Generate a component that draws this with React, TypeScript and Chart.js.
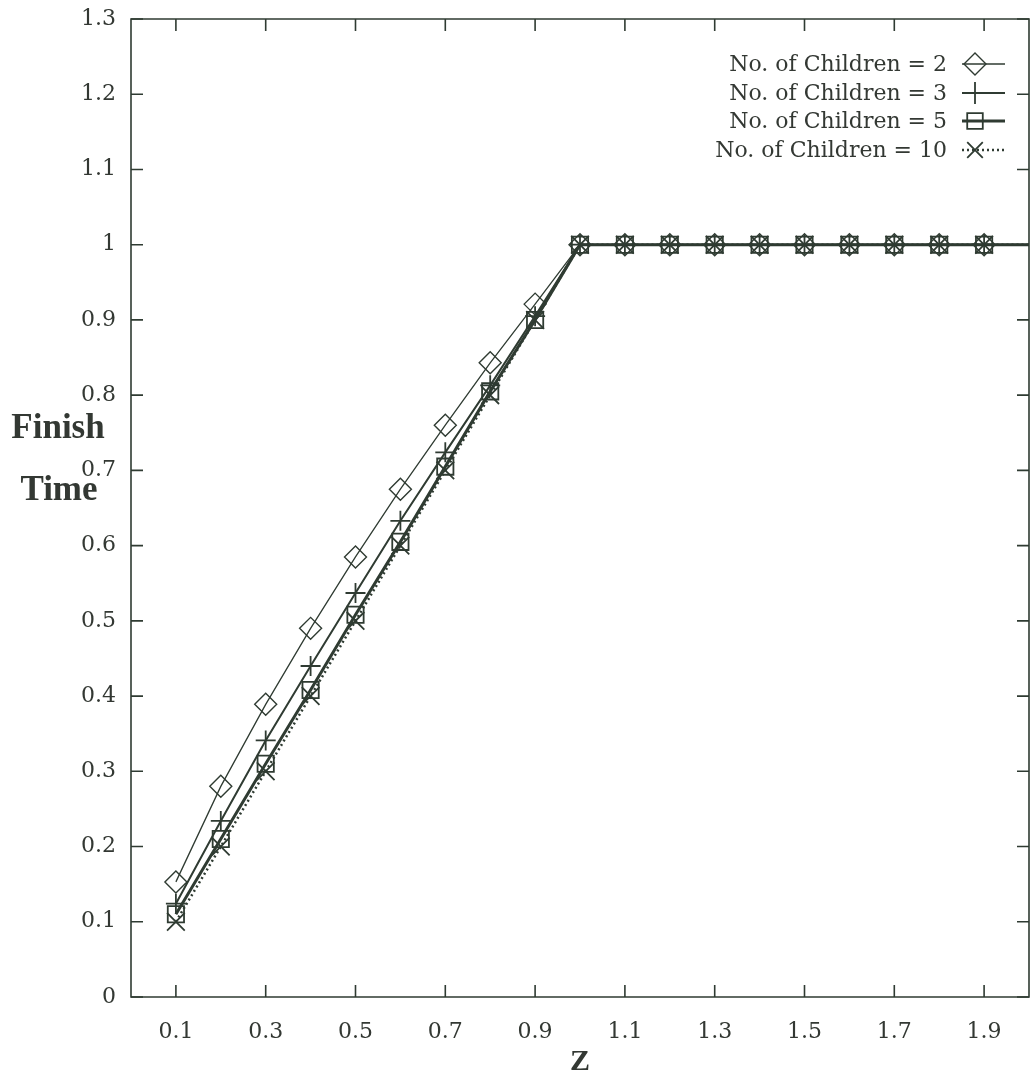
import React, { useEffect, useRef } from "react";
import { Chart, registerables } from "chart.js";

Chart.register(...registerables);

const zValues = [0.1, 0.2, 0.3, 0.4, 0.5, 0.6, 0.7, 0.8, 0.9, 1.0, 1.1, 1.2, 1.3, 1.4, 1.5, 1.6, 1.7, 1.8, 1.9, 2.0];
const children2 = [0.153, 0.28, 0.389, 0.49, 0.585, 0.675, 0.76, 0.843, 0.921, 1, 1, 1, 1, 1, 1, 1, 1, 1, 1, 1];
const children3 = [0.124, 0.234, 0.341, 0.44, 0.537, 0.633, 0.724, 0.813, 0.905, 1, 1, 1, 1, 1, 1, 1, 1, 1, 1, 1];
const children5 = [0.11, 0.21, 0.31, 0.408, 0.508, 0.605, 0.705, 0.805, 0.9, 1, 1, 1, 1, 1, 1, 1, 1, 1, 1, 1];
const children10 = [0.1, 0.2, 0.3, 0.4, 0.5, 0.6, 0.7, 0.8, 0.9, 1, 1, 1, 1, 1, 1, 1, 1, 1, 1, 1];

const seriesLabels = [
  "No. of Children = 2",
  "No. of Children = 3",
  "No. of Children = 5",
  "No. of Children = 10",
];

const xTickValues = [0.1, 0.3, 0.5, 0.7, 0.9, 1.1, 1.3, 1.5, 1.7, 1.9];
const yTickValues = [0, 0.1, 0.2, 0.3, 0.4, 0.5, 0.6, 0.7, 0.8, 0.9, 1, 1.1, 1.2, 1.3];
const yTitleLines = ["Finish", "Time"];
const xTitle = "Z";

const INK = "#2f3b32";
const TEXT = "#333833";
const SERIF = "'DejaVu Serif', serif";
const BOLD_SERIF = "'Liberation Serif', serif";

function drawMarker(ctx: CanvasRenderingContext2D, style: string, x: number, y: number, r: number) {
  ctx.beginPath();
  if (style === "rectRot") {
    ctx.moveTo(x - r, y);
    ctx.lineTo(x, y - r);
    ctx.lineTo(x + r, y);
    ctx.lineTo(x, y + r);
    ctx.closePath();
  } else if (style === "cross") {
    ctx.moveTo(x - r, y);
    ctx.lineTo(x + r, y);
    ctx.moveTo(x, y - r);
    ctx.lineTo(x, y + r);
  } else if (style === "rect") {
    const s = Math.SQRT1_2 * r;
    ctx.rect(x - s, y - s, 2 * s, 2 * s);
  } else if (style === "crossRot") {
    const s = Math.SQRT1_2 * r;
    ctx.moveTo(x - s, y - s);
    ctx.lineTo(x + s, y + s);
    ctx.moveTo(x - s, y + s);
    ctx.lineTo(x + s, y - s);
  }
  ctx.stroke();
}

const framePlugin = {
  id: "frameTicks",
  afterDraw(chart: any) {
    const { ctx, chartArea } = chart;
    const { left, right, top, bottom } = chartArea;
    const xs = chart.scales.x;
    const ys = chart.scales.y;
    const tl = 12;
    ctx.save();
    ctx.strokeStyle = INK;
    ctx.lineWidth = 1.6;
    ctx.beginPath();
    ctx.rect(left, top, right - left, bottom - top);
    ctx.stroke();
    ctx.beginPath();
    for (const v of xTickValues) {
      const px = xs.getPixelForValue(v);
      ctx.moveTo(px, bottom);
      ctx.lineTo(px, bottom - tl);
      ctx.moveTo(px, top);
      ctx.lineTo(px, top + tl);
    }
    for (const v of yTickValues) {
      const py = ys.getPixelForValue(v);
      ctx.moveTo(left, py);
      ctx.lineTo(left + tl, py);
      ctx.moveTo(right, py);
      ctx.lineTo(right - tl, py);
    }
    ctx.stroke();

    // y title
    ctx.fillStyle = TEXT;
    ctx.font = `bold 35px ${BOLD_SERIF}`;
    ctx.textAlign = "center";
    ctx.textBaseline = "alphabetic";
    ctx.fillText(yTitleLines[0], 58, 438);
    ctx.fillText(yTitleLines[1], 59, 500);

    // legend
    ctx.font = `22px ${SERIF}`;
    ctx.textAlign = "right";
    ctx.textBaseline = "middle";
    const rowY = [64, 93, 121, 150];
    chart.data.datasets.forEach((ds: any, i: number) => {
      const y = rowY[i];
      ctx.fillStyle = TEXT;
      ctx.fillText(ds.label, 947, y + 1);
      ctx.strokeStyle = INK;
      ctx.lineWidth = ds.borderWidth;
      ctx.setLineDash(ds.borderDash || []);
      ctx.beginPath();
      ctx.moveTo(962, y);
      ctx.lineTo(1005, y);
      ctx.stroke();
      ctx.setLineDash([]);
      ctx.lineWidth = ds.pointBorderWidth;
      drawMarker(ctx, ds.pointStyle, 975, y, ds.legendRadius);
    });
    ctx.restore();
  },
};

function makeData(values: number[]) {
  return zValues.map((z, i) => ({ x: z, y: values[i] }));
}

function zeroPad(s: any) {
  s.paddingLeft = 0;
  s.paddingRight = 0;
  s.paddingTop = 0;
  s.paddingBottom = 0;
}

export default function App() {
  const canvasRef = useRef<HTMLCanvasElement | null>(null);

  useEffect(() => {
    document.body.style.margin = "0";
    document.body.style.background = "#ffffff";
    const canvas = canvasRef.current;
    if (!canvas) return;
    const hideLast = (r: number) => (c: any) => (c.raw && c.raw.x > 1.95 ? 0 : r);
    const chart = new Chart(canvas, {
      type: "line",
      data: {
        datasets: [
          {
            label: seriesLabels[0],
            data: makeData(children2),
            borderColor: INK,
            borderWidth: 1.3,
            pointStyle: "rectRot",
            pointRadius: hideLast(11),
            pointBorderWidth: 1.4,
            pointBorderColor: INK,
            pointBackgroundColor: "rgba(0,0,0,0)",
            legendRadius: 11,
          } as any,
          {
            label: seriesLabels[1],
            data: makeData(children3),
            borderColor: INK,
            borderWidth: 2,
            pointStyle: "cross",
            pointRadius: hideLast(10),
            pointBorderWidth: 1.8,
            pointBorderColor: INK,
            pointBackgroundColor: "rgba(0,0,0,0)",
            legendRadius: 11,
          } as any,
          {
            label: seriesLabels[2],
            data: makeData(children5),
            borderColor: INK,
            borderWidth: 3,
            pointStyle: "rect",
            pointRadius: hideLast(11.5),
            pointBorderWidth: 1.8,
            pointBorderColor: INK,
            pointBackgroundColor: "rgba(0,0,0,0)",
            legendRadius: 11,
          } as any,
          {
            label: seriesLabels[3],
            data: makeData(children10),
            borderColor: INK,
            borderWidth: 2.5,
            borderDash: [2, 3],
            pointStyle: "crossRot",
            pointRadius: hideLast(12.5),
            pointBorderWidth: 1.8,
            pointBorderColor: INK,
            pointBackgroundColor: "rgba(0,0,0,0)",
            legendRadius: 11,
          } as any,
        ],
      },
      options: {
        animation: false,
        responsive: false,
        maintainAspectRatio: false,
        layout: { autoPadding: false, padding: { top: 19, right: 2, left: 0, bottom: 0 } },
        plugins: {
          legend: { display: false },
          tooltip: { enabled: false },
          title: { display: false },
        },
        elements: { line: { tension: 0 } },
        scales: {
          x: {
            type: "linear",
            min: 0,
            max: 2,
            border: { display: false },
            grid: { display: false, drawTicks: false },
            afterFit: (s: any) => {
              s.height = 83;
              zeroPad(s);
            },
            afterBuildTicks: (s: any) => {
              s.ticks = xTickValues.map((v) => ({ value: v }));
            },
            ticks: {
              autoSkip: false,
              maxRotation: 0,
              padding: 22,
              color: TEXT,
              font: { family: SERIF, size: 22 },
              callback: (v: any) => Number(v).toFixed(1),
            },
            title: {
              display: true,
              text: xTitle,
              color: TEXT,
              font: { family: BOLD_SERIF, size: 30, weight: "bold" },
              padding: { top: 0, bottom: 0 },
            },
          },
          y: {
            type: "linear",
            min: 0,
            max: 1.3,
            border: { display: false },
            grid: { display: false, drawTicks: false },
            afterFit: (s: any) => {
              s.width = 131;
              zeroPad(s);
            },
            afterBuildTicks: (s: any) => {
              s.ticks = yTickValues.map((v) => ({ value: v }));
            },
            ticks: {
              autoSkip: false,
              padding: 15,
              color: TEXT,
              font: { family: SERIF, size: 22 },
              callback: (v: any) => {
                const n = Number(v);
                return Math.abs(n - Math.round(n)) < 1e-9 ? String(Math.round(n)) : n.toFixed(1);
              },
            },
          },
        },
      },
      plugins: [framePlugin],
    });
    return () => {
      chart.destroy();
    };
  }, []);

  return (
    <canvas
      ref={canvasRef}
      width={1031}
      height={1080}
      style={{ display: "block", width: "1031px", height: "1080px" }}
    />
  );
}
